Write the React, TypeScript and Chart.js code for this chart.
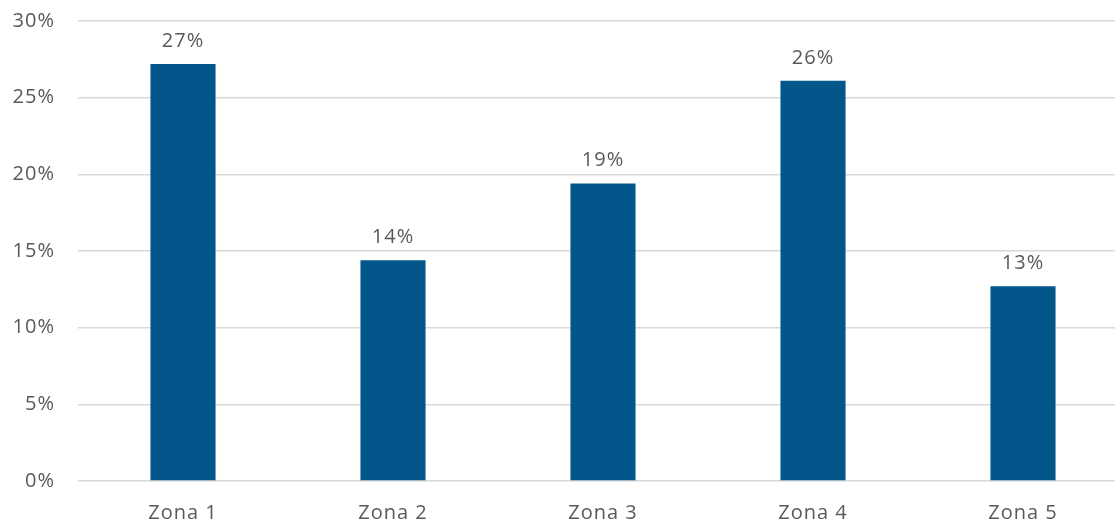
import React, { useEffect, useRef } from "react";
import { Chart, registerables } from "chart.js";

Chart.register(...registerables);

const categories = ["Zona 1", "Zona 2", "Zona 3", "Zona 4", "Zona 5"];
const values = [27.2, 14.4, 19.4, 26.1, 12.7];
const valueLabels = ["27%", "14%", "19%", "26%", "13%"];
const yTicks = [0, 5, 10, 15, 20, 25, 30];

const FONT = "'Open Sans', sans-serif";
const TEXT = "#595959";
const WEIGHT = 400;

const spacingPlugin = {
  id: "spacing",
  beforeInit(chart: any) {
    chart.ctx.letterSpacing = "1px";
  },
  beforeDraw(chart: any) {
    chart.ctx.letterSpacing = "1px";
  },
};

const valueLabelPlugin = {
  id: "valueLabels",
  afterDatasetsDraw(chart: any) {
    const ctx = chart.ctx;
    const meta = chart.getDatasetMeta(0);
    ctx.save();
    ctx.letterSpacing = "1px";
    ctx.font = `${WEIGHT} 20px ${FONT}`;
    ctx.fillStyle = TEXT;
    ctx.textAlign = "center";
    ctx.textBaseline = "middle";
    meta.data.forEach((bar: any, i: number) => {
      ctx.fillText(valueLabels[i], bar.x, bar.y - 23);
    });
    ctx.restore();
  },
};

export default function App() {
  const ref = useRef<HTMLCanvasElement>(null);
  useEffect(() => {
    if (!ref.current) return;
    const chart = new Chart(ref.current, {
      type: "bar",
      data: {
        labels: categories,
        datasets: [
          {
            data: values,
            backgroundColor: "#02568A",
            borderWidth: 0,
            categoryPercentage: 1,
            barPercentage: 0.31,
          },
        ],
      },
      options: {
        responsive: true,
        maintainAspectRatio: false,
        animation: false,
        layout: { padding: { top: 21, left: 0, right: 0, bottom: 0 } },
        plugins: {
          legend: { display: false },
          tooltip: { enabled: false },
        },
        scales: {
          x: {
            grid: { display: false },
            border: { display: false },
            ticks: {
              color: TEXT,
              font: { family: FONT, size: 20, weight: WEIGHT as any },
              padding: 12,
            },
            afterFit(scale: any) {
              scale.height = 42;
            },
          },
          y: {
            min: 0,
            max: 30,
            afterBuildTicks(scale: any) {
              scale.ticks = yTicks.map((v) => ({ value: v }));
            },
            grid: { color: "#d9d9d9", lineWidth: 1.5, drawTicks: false },
            border: { display: false },
            ticks: {
              color: TEXT,
              font: { family: FONT, size: 20, weight: WEIGHT as any },
              padding: 23,
              callback: (v: any) => `${v}%`,
            },
            afterFit(scale: any) {
              scale.width = 78;
              scale.paddingTop = 0;
              scale.paddingBottom = 0;
            },
          },
        },
      },
      plugins: [spacingPlugin, valueLabelPlugin],
    });
    return () => chart.destroy();
  }, []);
  return (
    <div
      style={{
        position: "fixed",
        left: 0,
        top: 0,
        width: 1115,
        height: 523,
        overflow: "hidden",
        background: "#fff",
      }}
    >
      <div style={{ position: "relative", width: 1128, height: 523 }}>
        <canvas ref={ref} />
      </div>
    </div>
  );
}
